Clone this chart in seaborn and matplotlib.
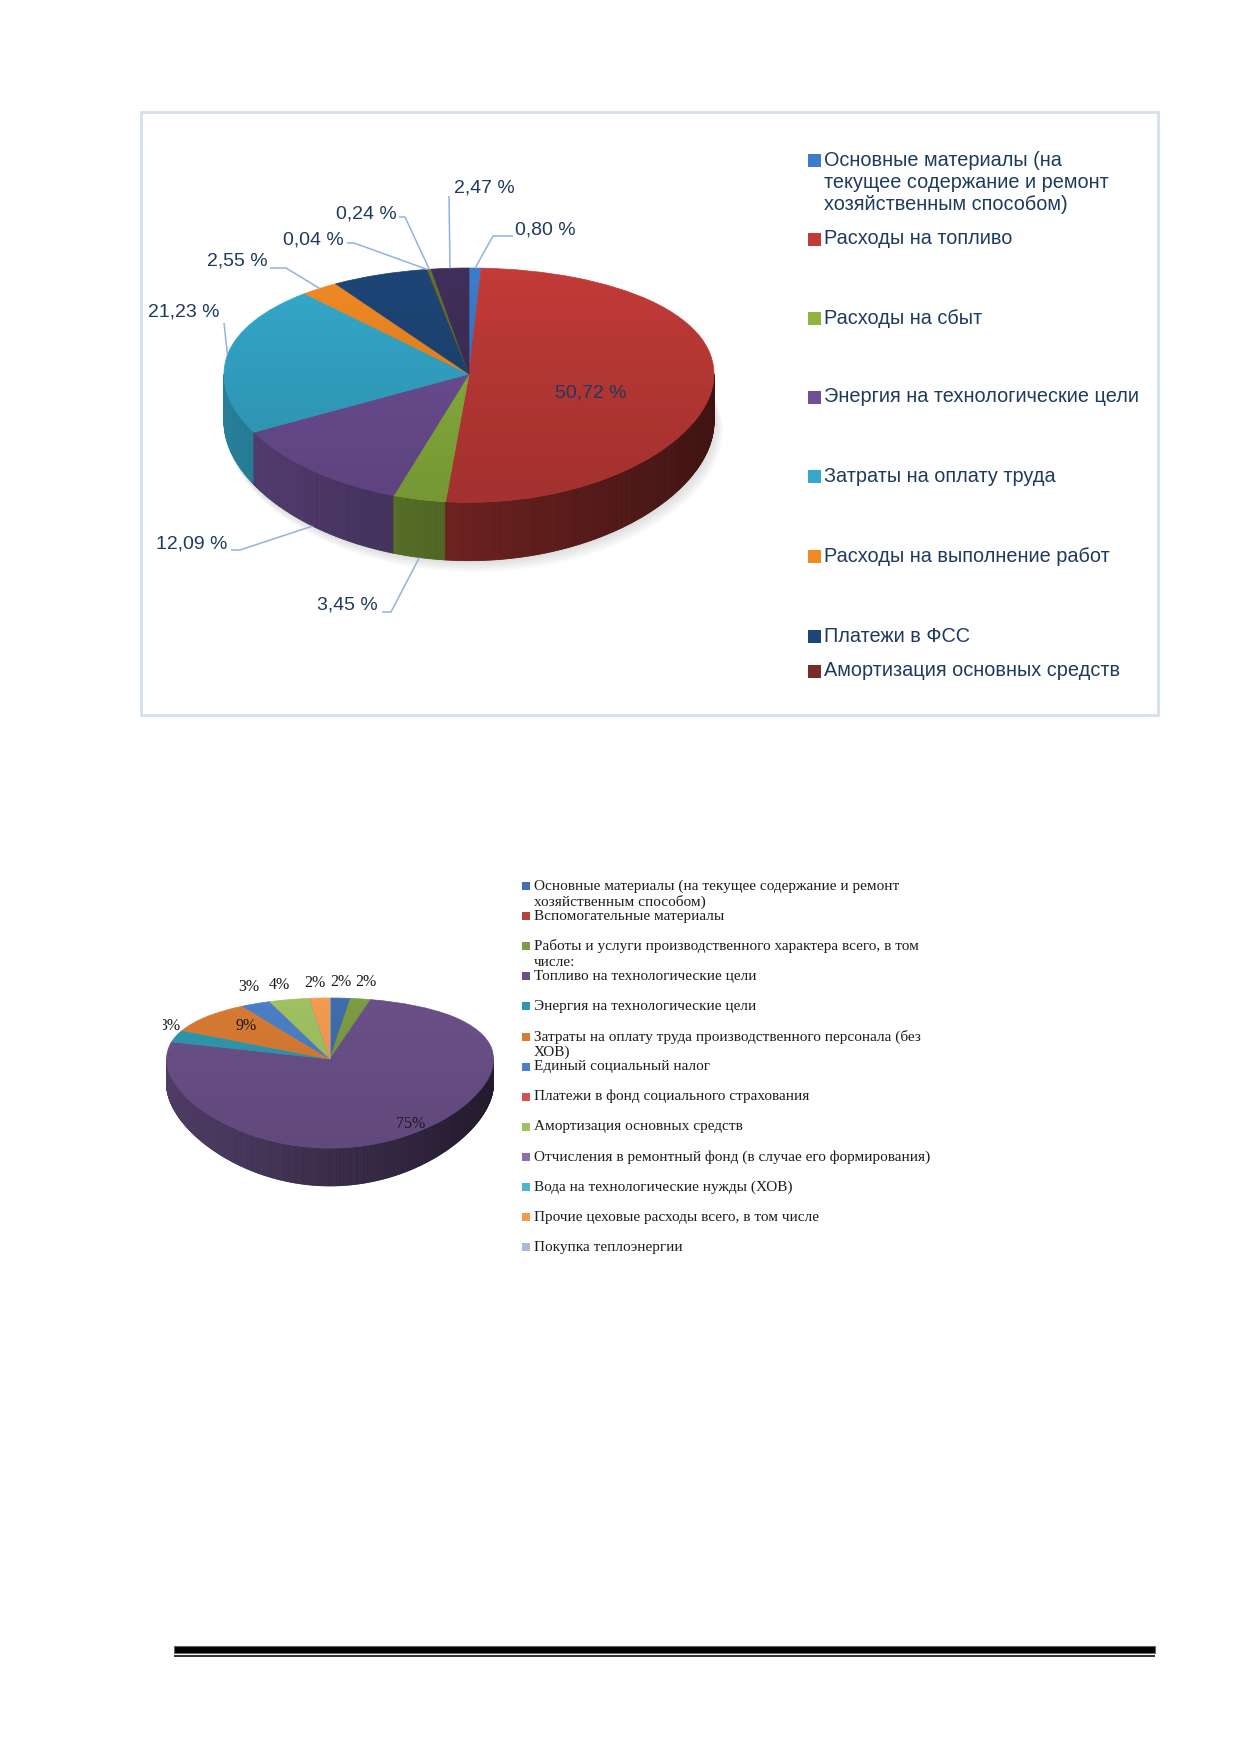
import numpy as np
import matplotlib
matplotlib.use("Agg")
import matplotlib.pyplot as plt
import matplotlib.colors as mcolors
from matplotlib.patches import Rectangle, Ellipse, Circle
from matplotlib.collections import PolyCollection
import seaborn as sns

# ---------------- data: chart 1 ----------------
c1_slices = ["Основные материалы", "Расходы на топливо", "Расходы на сбыт",
             "Энергия на технологические цели", "Затраты на оплату труда",
             "Расходы на выполнение работ", "Платежи в ФСС",
             "Амортизация основных средств", "Прочие 1", "Прочие 2"]
c1_values = [0.80, 50.72, 3.45, 12.09, 21.23, 2.55, 6.41, 0.04, 0.24, 2.47]
c1_show_label = [True, True, True, True, True, True, False, True, True, True]
c1_legend = ["Основные материалы (на\nтекущее содержание и ремонт\nхозяйственным способом)",
             "Расходы на топливо", "Расходы на сбыт",
             "Энергия на технологические цели", "Затраты на оплату труда",
             "Расходы на выполнение работ", "Платежи в ФСС",
             "Амортизация основных средств"]

# ---------------- data: chart 2 ----------------
c2_categories = [
    "Основные материалы (на текущее содержание и ремонт\nхозяйственным способом)",
    "Вспомогательные материалы",
    "Работы и услуги производственного характера всего, в том\nчисле:",
    "Топливо на технологические цели",
    "Энергия на технологические цели",
    "Затраты на оплату труда производственного персонала (без\nХОВ)",
    "Единый социальный налог",
    "Платежи в фонд социального страхования",
    "Амортизация основных средств",
    "Отчисления в ремонтный фонд (в случае его формирования)",
    "Вода на технологические нужды (ХОВ)",
    "Прочие цеховые расходы всего, в том числе",
    "Покупка теплоэнергии",
]
c2_values = [2, 0, 2, 75, 3, 9, 3, 0, 4, 0, 0, 2, 0]

# ---------------- styles ----------------
c1_colors = ["#3C7CCB", "#C23B38", "#8DB53F", "#6F5097", "#35A9CC", "#F28A24",
             "#1D4677", "#772C2A", "#5F7530", "#3F2F5A"]
c2_colors = ["#3F6EAC", "#B4423F", "#7C9D42", "#6A5088", "#2F98AE", "#D87B33",
             "#4A80C8", "#CF5452", "#A0C262", "#8B6DB0", "#4BB4CF", "#F59B4E",
             "#A9BADA"]

sns.set_theme(style="white")
plt.rcParams['font.family'] = ['Liberation Sans', 'DejaVu Sans']

W, H = 1239, 1752
fig = plt.figure(figsize=(W / 100, H / 100), dpi=100)
fig.patch.set_facecolor("white")

# background overlay in pixel coordinates
bg = fig.add_axes([0, 0, 1, 1])
bg.set_xlim(0, W)
bg.set_ylim(H, 0)
bg.set_axis_off()
bg.set_facecolor("none")


def pie_axes(box, cx, cy, rx, ry, a):
    """Axes whose data unit circle maps to a tilted (perspective) ellipse."""
    x0, y0, x1, y1 = box
    ax = fig.add_axes([x0 / W, 1 - y1 / H, (x1 - x0) / W, (y1 - y0) / H])
    ax.set_facecolor("none")
    c = 1.0 + a
    fwd = lambda v: c * v / (1.0 + a * v)
    inv = lambda y: y / (c - a * y)
    lims = (((x0 - cx) / rx, (x1 - cx) / rx),
            (inv((cy - y1) / ry), inv((cy - y0) / ry)))
    conv = lambda px, py: ((px - cx) / rx, inv((cy - py) / ry))
    return ax, lims, conv, (fwd, inv)


def draw_pie3d(ax, lims, funcs, values, colors, depth, shadow=False, grad_alpha=0.16):
    vals = np.asarray(values, float)
    frac = vals / vals.sum()
    cum = np.concatenate([[0.0], np.cumsum(frac)])
    if shadow:
        for k in range(1, 7):
            ax.add_patch(Ellipse((0.004 * k, -depth - 0.012 * k), 2.0 + 0.004 * k, 2.0,
                                 facecolor="#808080", edgecolor="none", alpha=0.045, zorder=0))
    bounds = [(90 - 360 * c) % 360 for c in cum]
    grid = np.arange(180, 360.001, 0.5)
    bnd = [b for b in bounds if 180 < b < 360]
    ts = np.unique(np.concatenate([grid, bnd]))
    polys, cols = [], []
    for t0, t1 in zip(ts[:-1], ts[1:]):
        tm = np.radians((t0 + t1) / 2)
        f = ((90 - np.degrees(tm)) % 360) / 360
        idx = min(np.searchsorted(cum, f, side="right") - 1, len(vals) - 1)
        a0, a1 = np.radians(t0), np.radians(t1)
        poly = [(np.cos(a0), np.sin(a0)), (np.cos(a1), np.sin(a1)),
                (np.cos(a1), np.sin(a1) - depth), (np.cos(a0), np.sin(a0) - depth)]
        shade = 0.75 - 0.42 * (np.cos(tm) + 1) / 2
        rgb = np.clip(np.array(mcolors.to_rgb(colors[idx])) * shade, 0, 1)
        polys.append(poly)
        cols.append(rgb)
    ax.add_collection(PolyCollection(polys, facecolors=cols, edgecolors=cols,
                                     linewidths=0.6, zorder=1))
    wedges, _ = ax.pie(vals, colors=colors, startangle=90, counterclock=False,
                       radius=1, center=(0, 0), frame=False,
                       wedgeprops=dict(linewidth=0.5))
    for w in wedges:
        w.set_edgecolor(w.get_facecolor())
        w.set_zorder(2)
    # soft shading of the top face (lighter far edge, darker near edge)
    vs = np.linspace(1, -1, 41)
    bands = [[(-1, v0), (1, v0), (1, v1), (-1, v1)] for v0, v1 in zip(vs[:-1], vs[1:])]
    alphas = np.linspace(0, grad_alpha, len(bands))
    gc = PolyCollection(bands, facecolors=[(0, 0, 0, al) for al in alphas],
                        edgecolors="none", zorder=3)
    ax.add_collection(gc)
    gc.set_clip_path(Circle((0, 0), 1, transform=ax.transData))
    ax.set_aspect("auto")
    ax.set_yscale("function", functions=funcs)
    ax.set_xlim(*lims[0])
    ax.set_ylim(*lims[1])
    ax.set_axis_off()
    mids = (cum[:-1] + cum[1:]) / 2
    ang = np.radians(90 - 360 * mids)
    return np.cos(ang), np.sin(ang)


# ======================= CHART 1 =======================
bg.add_patch(Rectangle((141, 112), 1158 - 141, 715 - 112, facecolor="none",
                       edgecolor="#D5DFEE", linewidth=2.0))
ax1, lims1, conv1, funcs1 = pie_axes((142, 114, 800, 713), 469, 374, 245, 106, 0.095)
d1 = 0.395
mx, my = draw_pie3d(ax1, lims1, funcs1, c1_values, c1_colors, d1, shadow=True)

txt1 = "#1F3A5F"
lead1 = "#8EB4E3"
# label layout: text position (px), alignment, elbow points (px), attach point
c1_label_layout = {
    0: (515, 230, "left", [(513, 236), (493, 236)], "top"),
    1: (591, 393, "center", [], None),
    2: (378, 605, "right", [(382, 612), (391, 612)], "side"),
    3: (227, 544, "right", [(231, 550), (240, 550)], "side"),
    4: (219, 312, "right", [(224, 323)], "top"),
    5: (268, 261, "right", [(270, 268), (286, 268)], "top"),
    7: (344, 240, "right", [(347, 243), (354, 243)], "top"),
    8: (397, 214, "right", [(399, 217), (405, 217)], "top"),
    9: (454, 188, "left", [(449, 196)], "top"),
}
for i, v in enumerate(c1_values):
    if not c1_show_label[i]:
        continue
    tx, ty, ha, elbows, attach = c1_label_layout[i]
    lab = f"{v:.2f} %".replace(".", ",")
    x, y = conv1(tx, ty)
    ax1.text(x, y, lab, ha=ha, va="center", fontsize=14, color=txt1, zorder=6)
    if attach:
        pts = [conv1(px, py) for px, py in elbows]
        ay = my[i] - (d1 if attach == "side" else 0)
        pts.append((mx[i], ay))
        xs, ys = zip(*pts)
        ax1.plot(xs, ys, color=lead1, lw=1.1, zorder=5, solid_capstyle="butt")

c1_legend_y = [160, 239, 318, 397, 476, 556, 636, 671]
for i, (name, yy) in enumerate(zip(c1_legend, c1_legend_y)):
    bg.add_patch(Rectangle((808, yy - 6.5), 13, 13, facecolor=c1_colors[i],
                           edgecolor="none"))
    for j, line in enumerate(name.split("\n")):
        bg.text(824, yy + j * 22.5, line, ha="left", va="center", fontsize=14.3,
                color=txt1)

# ======================= CHART 2 =======================
ax2, lims2, conv2, funcs2 = pie_axes((163, 900, 520, 1230), 330, 1059, 163.5, 61, 0.187)
d2 = 0.32
draw_pie3d(ax2, lims2, funcs2, c2_values, c2_colors, d2, shadow=False, grad_alpha=0.08)

c2_label_pos = {0: (341, 982), 2: (366, 982), 3: (411, 1124), 4: (170, 1026),
                5: (246, 1026), 6: (249, 987), 8: (279, 985), 11: (315, 983)}
for i, v in enumerate(c2_values):
    if v <= 0:
        continue
    x, y = conv2(*c2_label_pos[i])
    ax2.text(x, y, f"{v:.0f}%", ha="center", va="center", fontsize=11.5,
             family=["Liberation Serif", "DejaVu Serif"], color="#1A1A1A",
             zorder=6, clip_on=True)

for i, name in enumerate(c2_categories):
    yy = 886 + 30.1 * i
    bg.add_patch(Rectangle((522, yy - 4), 8, 8, facecolor=c2_colors[i],
                           edgecolor="none"))
    for j, line in enumerate(name.split("\n")):
        bg.text(534, yy + j * 15.8, line, ha="left", va="center", fontsize=11,
                family=["Liberation Serif", "DejaVu Serif"], color="#1C1C1C")

# ======================= page footer line =======================
bg.add_patch(Rectangle((174, 1646), 1155 - 174, 7, facecolor="black",
                       edgecolor="#666666", linewidth=0.8))
bg.add_patch(Rectangle((174, 1654.5), 1155 - 174, 2, facecolor="#333333",
                       edgecolor="none"))

fig.savefig("out.png", dpi=100, facecolor="white")
